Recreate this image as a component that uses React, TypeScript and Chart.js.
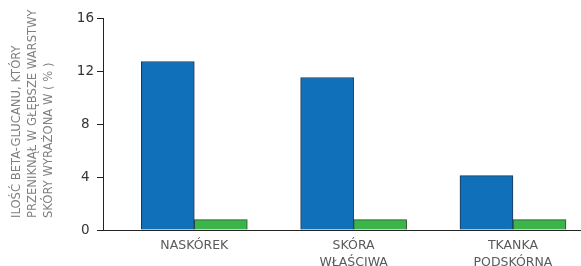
import React, { useEffect, useRef } from 'react';
import { Chart, registerables } from 'chart.js';

Chart.register(...registerables);

const categories: string[][] = [['NASKÓREK'], ['SKÓRA', 'WŁAŚCIWA'], ['TKANKA', 'PODSKÓRNA']];
const blueValues = [12.72, 11.51, 4.1];
const greenValues = [0.78, 0.78, 0.78];
const yTicks = [0, 4, 8, 12, 16];
const yTitleLines = ['ILOŚĆ BETA-GLUCANU, KTÓRY', 'PRZENIKNĄŁ W GŁĘBSZE WARSTWY', 'SKÓRY WYRAŻONA W ( % )'];

const FONT = '"DejaVu Sans", sans-serif';

const yTitlePlugin = {
  id: 'yTitleLines',
  afterDraw(chart: any) {
    const ctx = chart.ctx as CanvasRenderingContext2D;
    ctx.save();
    ctx.font = '11.6px ' + FONT;
    ctx.fillStyle = '#808080';
    ctx.textAlign = 'left';
    ctx.textBaseline = 'middle';
    const startY = chart.chartArea.bottom - 12;
    yTitleLines.forEach((line, i) => {
      ctx.save();
      ctx.translate(16.5 + i * 16, startY);
      ctx.rotate(-Math.PI / 2);
      ctx.fillText(line, 0, 0);
      ctx.restore();
    });
    ctx.restore();
  },
};

export default function App() {
  const ref = useRef<HTMLCanvasElement | null>(null);
  useEffect(() => {
    if (!ref.current) return;
    const chart = new Chart(ref.current, {
      type: 'bar',
      data: {
        datasets: [
          {
            data: blueValues.map((v, i) => ({ x: i, y: v })),
            backgroundColor: '#1170BA',
            borderColor: '#1f3650',
            borderWidth: 1,
            barThickness: 53,
          },
          {
            data: greenValues.map((v, i) => ({ x: i, y: v })),
            backgroundColor: '#3BB44A',
            borderColor: '#2e4a34',
            borderWidth: 1,
            barThickness: 53,
          },
        ],
      } as any,
      options: {
        responsive: false,
        animation: false,
        layout: { padding: { top: 18, right: 0, bottom: 0, left: 0 } },
        plugins: { legend: { display: false }, tooltip: { enabled: false } },
        scales: {
          x: {
            type: 'linear',
            offset: false,
            min: -0.573,
            max: 2.427,
            grid: { display: false, drawTicks: false, offset: false },
            border: { display: true, color: '#222', width: 1 },
            afterBuildTicks: (s: any) => {
              s.ticks = categories.map((_, i) => ({ value: i }));
            },
            ticks: {
              callback: (_v: any, index: number) => categories[index],
              font: { family: FONT, size: 12.5, lineHeight: 1.3 },
              color: '#5a5a5a',
              padding: 8,
              maxRotation: 0,
              autoSkip: false,
            },
            afterFit: (s: any) => {
              s.height = 36;
            },
          },
          y: {
            min: 0,
            max: 16,
            afterBuildTicks: (s: any) => {
              s.ticks = yTicks.map((v) => ({ value: v }));
            },
            grid: { drawOnChartArea: false, drawTicks: true, tickLength: 6, color: '#222', tickWidth: 1 },
            border: { display: true, color: '#222', width: 1 },
            ticks: {
              crossAlign: 'center',
              padding: 3,
              font: { family: FONT, size: 13.5 },
              color: '#333',
            },
            afterFit: (s: any) => {
              s.width = 103;
            },
          },
        },
      } as any,
      plugins: [yTitlePlugin],
    });
    return () => chart.destroy();
  }, []);
  return (
    <div style={{ position: 'fixed', left: 0, top: 0, width: 581, height: 266, background: '#fff' }}>
      <canvas ref={ref} width={581} height={266} style={{ display: 'block' }} />
    </div>
  );
}
